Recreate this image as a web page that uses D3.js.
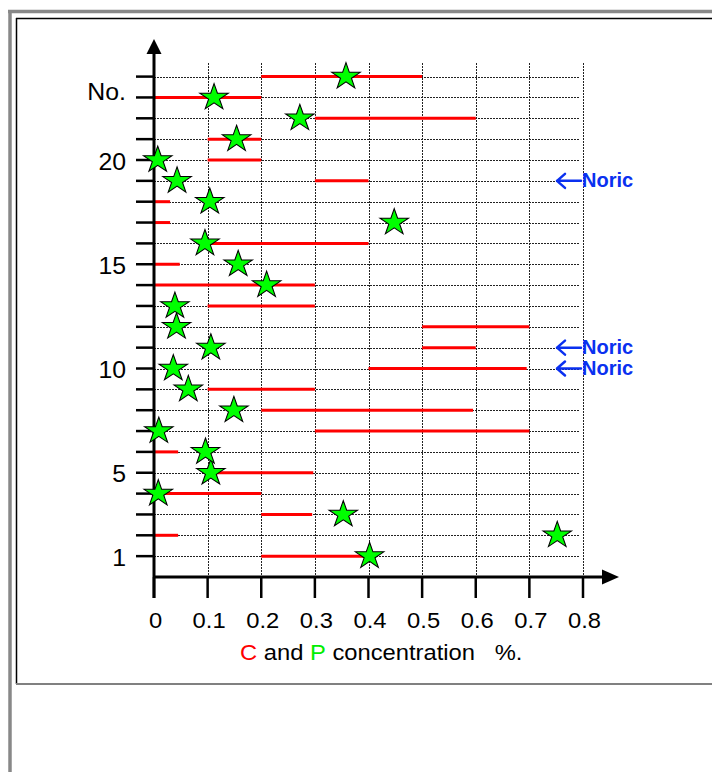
<!DOCTYPE html>
<html>
<head>
<meta charset="utf-8">
<script src="https://cdn.jsdelivr.net/npm/d3@7"></script>
<style>
  html, body { margin: 0; padding: 0; background: #fff; }
  svg { display: block; }
  text { font-family: "Liberation Sans", Arial, sans-serif; }
</style>
</head>
<body>
<div id="chart"></div>
<script>
// ---- Data ----
const rows   = [1, 2, 3, 4, 5, 6, 7, 8, 9, 10, 11, 12, 13, 14, 15, 16, 17, 18, 19, 20, 21, 22, 23, 24];
const cLow   = [0.2, 0, 0.2, 0, 0.1, 0, 0.3, 0.2, 0.1, 0.4, 0.5, 0.5, 0.1, 0, 0, 0.1, 0, 0, 0.3, 0.1, 0.1, 0.3, 0, 0.2];
const cHigh  = [0.4, 0.045, 0.295, 0.2, 0.297, 0.045, 0.7, 0.595, 0.3, 0.695, 0.6, 0.7, 0.3, 0.3, 0.048, 0.4, 0.03, 0.03, 0.4, 0.2, 0.2, 0.6, 0.2, 0.5];
const pConc  = [0.402, 0.752, 0.353, 0.008, 0.106, 0.096, 0.009, 0.149, 0.064, 0.036, 0.106, 0.042, 0.039, 0.21, 0.157, 0.095, 0.448, 0.104, 0.043, 0.007, 0.154, 0.272, 0.112, 0.358];
const xTicks = [0, 0.1, 0.2, 0.3, 0.4, 0.5, 0.6, 0.7, 0.8];
const xTickLabels = ["0", "0.1", "0.2", "0.3", "0.4", "0.5", "0.6", "0.7", "0.8"];
const yLabelRows = [1, 5, 10, 15, 20, 23];
const yLabels = ["1", "5", "10", "15", "20", "No."];
const noricRows = [19, 11, 10];
const noricLabel = "Noric";

// ---- Setup ----
const W = 712, H = 772;
const svg = d3.select("#chart").append("svg").attr("width", W).attr("height", H);
svg.append("rect").attr("width", W).attr("height", H).attr("fill", "#fff");

// Frames
svg.append("line").attr("x1", 8).attr("x2", W).attr("y1", 11.5).attr("y2", 11.5).attr("stroke", "#888").attr("stroke-width", 3.5);
svg.append("line").attr("x1", 10).attr("x2", 10).attr("y1", 10).attr("y2", H).attr("stroke", "#888").attr("stroke-width", 3.5);
svg.append("line").attr("x1", 16).attr("x2", W).attr("y1", 18.5).attr("y2", 18.5).attr("stroke", "#000").attr("stroke-width", 1.5);
svg.append("line").attr("x1", 16.5).attr("x2", 16.5).attr("y1", 18).attr("y2", 684).attr("stroke", "#000").attr("stroke-width", 1.5);
svg.append("line").attr("x1", 16).attr("x2", W).attr("y1", 684).attr("y2", 684).attr("stroke", "#808080").attr("stroke-width", 2);

const x = d3.scaleLinear().domain([0, 0.8]).range([154, 583]);
const y = d3.scaleLinear().domain([0, 24]).range([577, 76.6]);

// Grid
const grid = svg.append("g");
grid.selectAll("line.h").data(rows).join("line")
  .attr("x1", x(0)).attr("x2", 580)
  .attr("y1", d => Math.round(y(d)) + 0.5).attr("y2", d => Math.round(y(d)) + 0.5)
  .attr("stroke", "#222").attr("stroke-width", 1).attr("stroke-dasharray", "2,1");
grid.selectAll("line.v").data(xTicks.slice(1)).join("line")
  .attr("x1", d => Math.round(x(d)) + 0.5).attr("x2", d => Math.round(x(d)) + 0.5)
  .attr("y1", 63).attr("y2", y(0))
  .attr("stroke", "#222").attr("stroke-width", 1).attr("stroke-dasharray", "2,1");

// Red C ranges
svg.append("g").selectAll("line").data(rows).join("line")
  .attr("x1", (d, i) => x(cLow[i])).attr("x2", (d, i) => x(cHigh[i]))
  .attr("y1", d => y(d)).attr("y2", d => y(d))
  .attr("stroke", "#ff0000").attr("stroke-width", 3);

// Axes
const axes = svg.append("g");
axes.append("line").attr("x1", x(0)).attr("x2", x(0)).attr("y1", 50).attr("y2", 598).attr("stroke", "#000").attr("stroke-width", 3);
axes.append("path").attr("d", `M${x(0)},39 L${x(0) - 7.5},54 L${x(0) + 7.5},54 Z`).attr("fill", "#000");
axes.append("line").attr("x1", x(0)).attr("x2", 606).attr("y1", y(0)).attr("y2", y(0)).attr("stroke", "#000").attr("stroke-width", 3);
axes.append("path").attr("d", `M619,${y(0)} L602,${y(0) - 7.5} L602,${y(0) + 7.5} Z`).attr("fill", "#000");
axes.selectAll("line.yt").data(rows).join("line")
  .attr("x1", 136).attr("x2", x(0)).attr("y1", d => y(d)).attr("y2", d => y(d))
  .attr("stroke", "#000").attr("stroke-width", 2.5);
axes.selectAll("line.xt").data(xTicks).join("line")
  .attr("x1", d => x(d)).attr("x2", d => x(d)).attr("y1", y(0)).attr("y2", 598)
  .attr("stroke", "#000").attr("stroke-width", 2.5);

// Y labels
svg.append("g").selectAll("text").data(yLabelRows).join("text")
  .attr("transform", (d, i) => `translate(126,${y(d) + (yLabels[i] === "No." ? 2.5 : 9.5)}) scale(1.08,1)`)
  .attr("text-anchor", "end").attr("font-size", 23).attr("fill", "#000")
  .text((d, i) => yLabels[i]);

// X labels
svg.append("g").selectAll("text").data(xTicks).join("text")
  .attr("transform", d => `translate(${x(d) + 1.5},628) scale(1.08,1)`)
  .attr("text-anchor", "middle").attr("font-size", 22).attr("fill", "#000")
  .text((d, i) => xTickLabels[i]);

// X title
const title = svg.append("text")
  .attr("transform", "translate(240,660) scale(1.08,1)")
  .attr("font-size", 22).attr("fill", "#000").style("white-space", "pre");
title.append("tspan").attr("fill", "#ff0000").text("C");
title.append("tspan").text(" and ");
title.append("tspan").attr("fill", "#00ee00").text("P");
title.append("tspan").text(" concentration   %.");

// P stars
const R = 13.9;
const starPath = d3.symbol().type(d3.symbolStar).size(R * R / 0.8908130915292852)();
svg.append("g").selectAll("path").data(rows).join("path")
  .attr("d", starPath)
  .attr("transform", (d, i) => `translate(${x(pConc[i])},${y(d)}) scale(1.08,1)`)
  .attr("fill", "#00ff00").attr("stroke", "#000").attr("stroke-width", 1);

// Noric annotations
const nor = svg.append("g").selectAll("g").data(noricRows).join("g")
  .attr("transform", d => `translate(0,${y(d)})`);
nor.append("path")
  .attr("d", "M557,0 L581,0 M565,-7 L557,0 L565,7")
  .attr("fill", "none").attr("stroke", "#0a30f0").attr("stroke-width", 2.5).attr("stroke-linecap", "round").attr("stroke-linejoin", "round");
nor.append("text")
  .attr("x", 582).attr("y", 6.5)
  .attr("font-size", 20).attr("font-weight", "bold").attr("fill", "#0a30f0")
  .text(noricLabel);
</script>
</body>
</html>
